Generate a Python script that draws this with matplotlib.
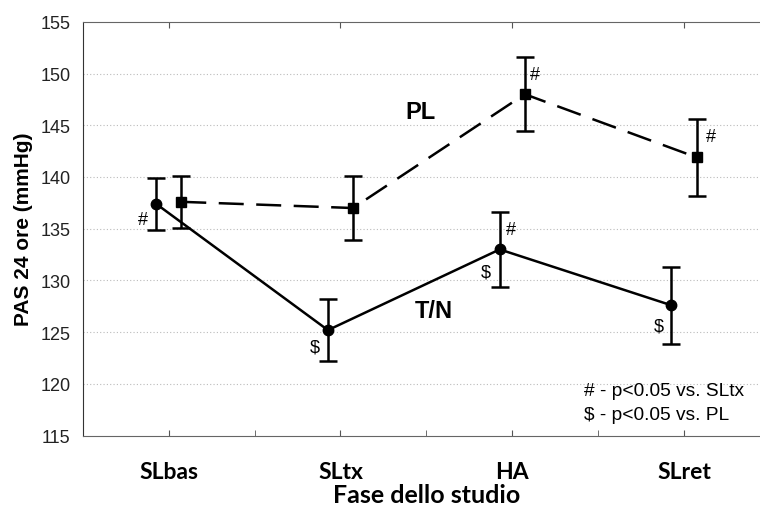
import matplotlib
matplotlib.use('Agg')
import matplotlib.pyplot as plt
from matplotlib.ticker import FixedLocator

# Fasi dello studio
phases = ['SLbas', 'SLtx', 'HA', 'SLret']

# PAS 24 ore (mmHg), media e semiampiezza delle barre d'errore
tn_mean = [137.4, 125.2, 133.0, 127.6]
tn_err = [2.5, 3.0, 3.6, 3.7]
pl_mean = [137.6, 137.0, 148.0, 141.9]
pl_err = [2.5, 3.05, 3.6, 3.7]

# significativita' (testo, fase, offset x, valore y)
tn_marks = [('#', 0, -0.153, 135.9), ('$', 1, -0.151, 123.6),
            ('#', 2, -0.01, 134.9), ('$', 2, -0.155, 130.8),
            ('$', 3, -0.144, 125.6)]
pl_marks = [('#', 2, 0.13, 149.9), ('#', 3, 0.157, 143.9)]

legend_lines = ['# - p<0.05 vs. SLtx', '$ - p<0.05 vs. PL']

dodge = 0.073
x = list(range(len(phases)))

fig = plt.figure(figsize=(7.6, 5.06), dpi=100)
ax = fig.add_axes([0.109, 0.137, 0.904, 0.818])

ax.errorbar([i - dodge for i in x], tn_mean, yerr=tn_err, color='black',
            lw=1.8, marker='o', ms=7.5, capsize=6.5, capthick=1.8,
            elinewidth=1.8, zorder=3)
ax.errorbar([i + dodge for i in x], pl_mean, yerr=pl_err, color='black',
            lw=1.8, ls=(0, (10, 5)), marker='s', ms=7, capsize=6.5,
            capthick=1.8, elinewidth=1.8, zorder=3)

for txt, i, dx, y in tn_marks + pl_marks:
    ax.text(i + dx, y, txt, ha='center', va='center', fontsize=13,
            family='Liberation Sans')

ax.text(1.468, 146.3, 'PL', ha='center', va='center', fontsize=17,
        fontweight='bold', family='Liberation Sans')
ax.text(1.543, 127.1, 'T/N', ha='center', va='center', fontsize=17,
        fontweight='bold', family='Liberation Sans')

ax.text(2.417, 119.35, legend_lines[0], ha='left', va='center',
        fontsize=13.8, family='Liberation Sans')
ax.text(2.417, 117.0, legend_lines[1], ha='left', va='center',
        fontsize=13.8, family='Liberation Sans')

ax.set_xlim(-0.5, 3.5)
ax.set_ylim(115, 155)
ax.set_yticks(range(115, 156, 5))
ax.set_yticklabels([str(v) for v in range(115, 156, 5)], fontsize=13,
                   family='Liberation Sans', color='#222222')
ax.set_xticks(x)
ax.set_xticklabels(phases, fontsize=16.5, fontweight='bold', family='Lato')
ax.xaxis.set_minor_locator(FixedLocator([0.5, 1.5, 2.5]))

ax.tick_params(axis='y', length=0, pad=9)
ax.tick_params(axis='x', which='major', direction='in', length=4,
               top=True, bottom=True, color='#555555', pad=18)
ax.tick_params(axis='x', which='minor', direction='in', length=4,
               top=False, bottom=True, color='#555555')

for v in range(120, 155, 5):
    ax.axhline(v, color='#bbbbbb', lw=0.8, ls=(0, (1, 2)), zorder=0)

ax.spines['right'].set_visible(False)
ax.spines['left'].set_color('#333333')
ax.spines['bottom'].set_color('#666666')
ax.spines['top'].set_color('#666666')

ax.set_ylabel('PAS 24 ore (mmHg)', fontsize=15, fontweight='bold',
              family='Liberation Sans', labelpad=5)
ax.set_xlabel('Fase dello studio', fontsize=18, fontweight='bold',
              family='Lato', labelpad=1)

fig.savefig('out.png', dpi=100)
